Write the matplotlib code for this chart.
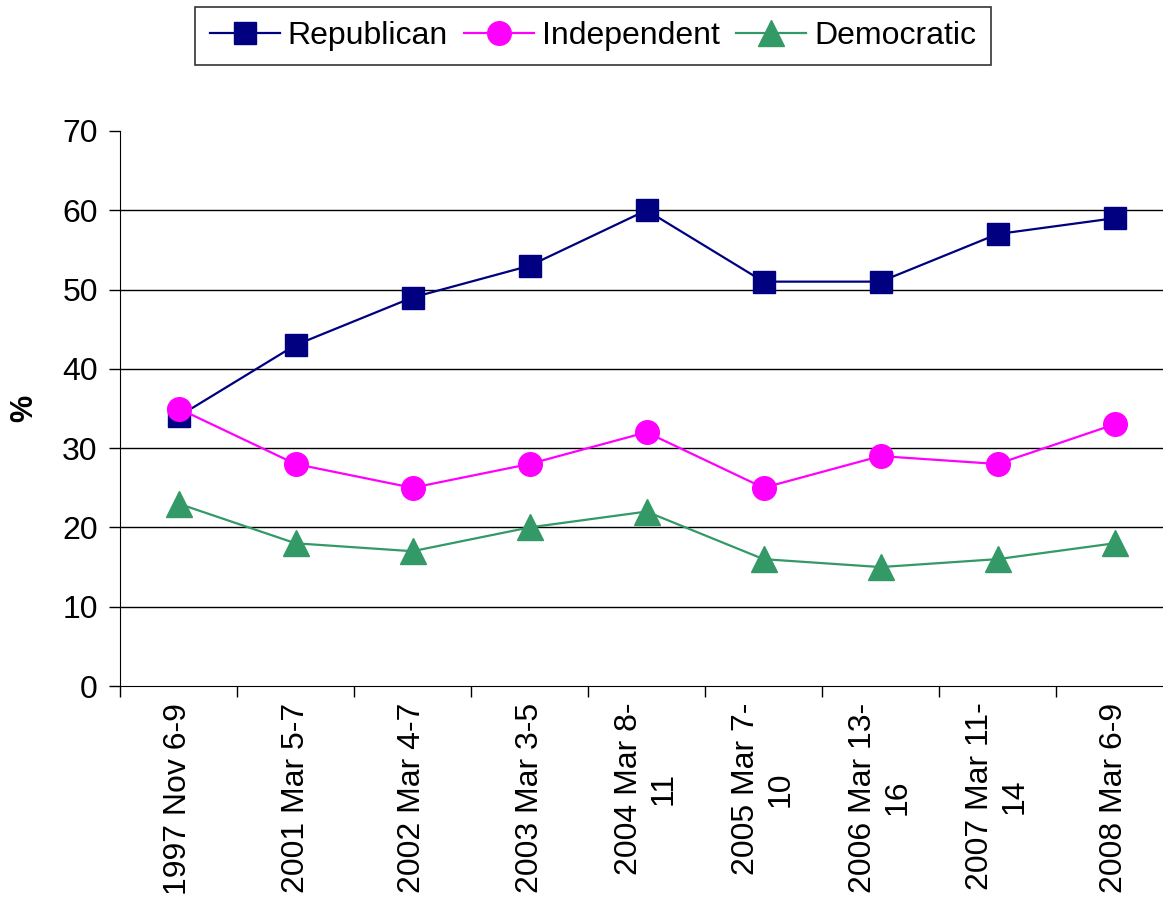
import matplotlib
matplotlib.use("Agg")
import matplotlib.pyplot as plt
import numpy as np

categories = ["1997 Nov 6-9", "2001 Mar 5-7", "2002 Mar 4-7", "2003 Mar 3-5",
              "2004 Mar 8-\n11", "2005 Mar 7-\n10", "2006 Mar 13-\n16",
              "2007 Mar 11-\n14", "2008 Mar 6-9"]
republican = [34, 43, 49, 53, 60, 51, 51, 57, 59]
independent = [35, 28, 25, 28, 32, 25, 29, 28, 33]
democratic = [23, 18, 17, 20, 22, 16, 15, 16, 18]

plt.rcParams['font.family'] = ['Liberation Sans', 'DejaVu Sans']

W, H = 1163, 898
fig = plt.figure(figsize=(W / 100, H / 100), dpi=100)
left, right, top, bottom = 120, 1173, 131, 686
ax = fig.add_axes([left / W, 1 - bottom / H, (right - left) / W, (bottom - top) / H])

x = np.arange(len(categories))
ax.plot(x, republican, color='#000080', lw=1.6, marker='s', ms=16.5, label='Republican', zorder=3)
ax.plot(x, independent, color='#FF00FF', lw=1.6, marker='o', ms=17, label='Independent', zorder=3)
ax.plot(x, democratic, color='#339966', lw=1.6, marker='^', ms=19, label='Democratic', zorder=3)

ax.set_xlim(-0.5, len(categories) - 0.5)
ax.set_ylim(0, 70)
ax.set_yticks(range(0, 71, 10))
ax.tick_params(axis='y', labelsize=23, length=8, width=1, direction='out', pad=8)
for yv in range(10, 70, 10):
    ax.axhline(yv, color='black', lw=1, zorder=1)

ax.set_xticks(np.arange(-0.5, len(categories), 1.0), minor=False)
ax.set_xticklabels([])
ax.set_xticks(x, minor=True)
ax.set_xticklabels(categories, minor=True, rotation=90, ha='center', va='top',
                   multialignment='center', fontsize=23)
ax.tick_params(axis='x', which='major', length=8, width=1, direction='out')
ax.tick_params(axis='x', which='minor', length=0, pad=12)

for s in ['top', 'right']:
    ax.spines[s].set_visible(False)
ax.spines['left'].set_color('black')
ax.spines['bottom'].set_color('black')

ax.set_ylabel('%', fontsize=22, fontweight='bold')
ax.yaxis.set_label_coords((39 - left) / (right - left), 0.5)

leg = fig.legend(loc='center', bbox_to_anchor=(593 / W, 1 - 36 / H), ncol=3,
                 fontsize=23, frameon=True, fancybox=False, edgecolor='black',
                 handlelength=2.2, handletextpad=0.25, columnspacing=0.5,
                 borderpad=0.45, markerscale=1.0)
leg.get_frame().set_linewidth(1.2)

fig.savefig('out.png', dpi=100)
